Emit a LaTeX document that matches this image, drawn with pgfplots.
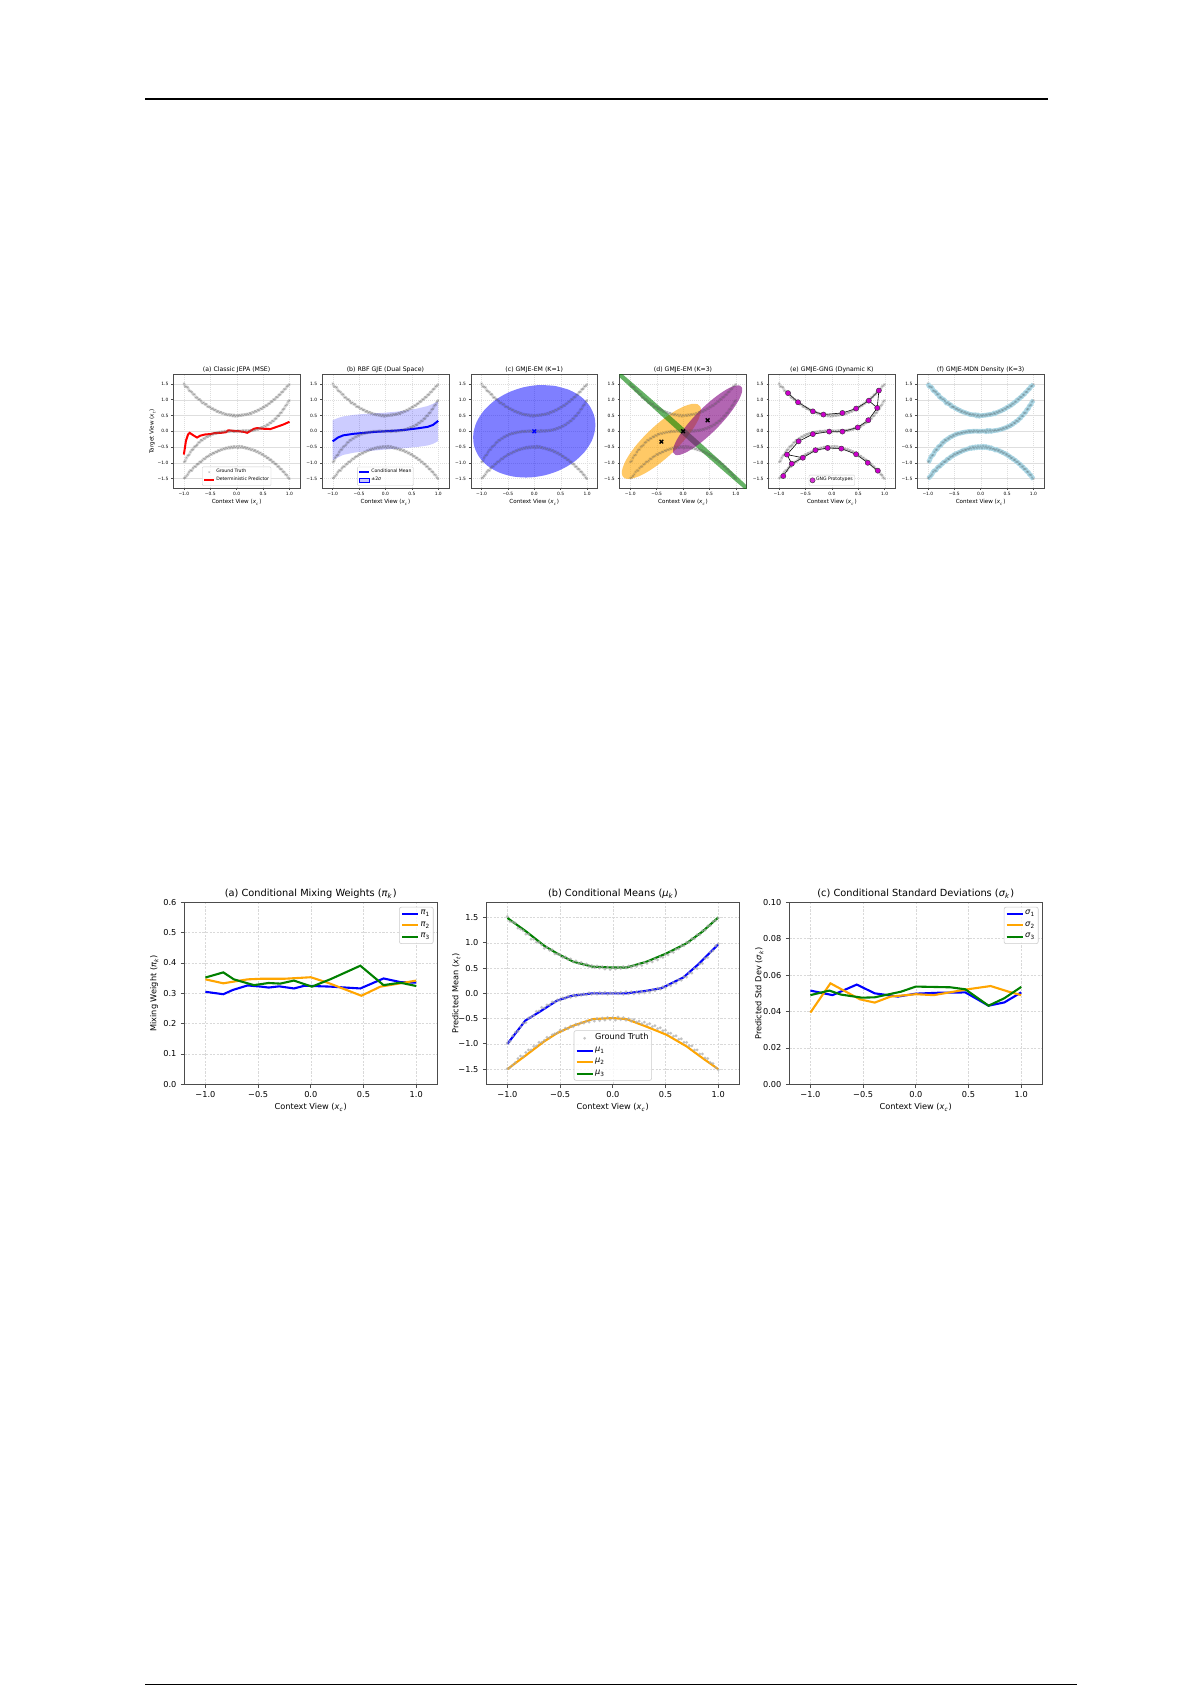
\documentclass[border=0pt]{standalone}
\usepackage{fontspec}
\setmainfont{DejaVu Sans}
\usepackage{pgfplots}
\usepackage{pgfplotstable}
\pgfplotsset{compat=1.18}

\definecolor{mblue}{RGB}{0,0,255}
\definecolor{morange}{RGB}{255,165,0}
\definecolor{mgreen}{RGB}{0,128,0}
\definecolor{mred}{RGB}{255,0,0}
\definecolor{mpurple}{RGB}{128,0,128}
\definecolor{mmagenta}{RGB}{204,0,204}
\definecolor{lblue}{RGB}{173,216,230}

% font sizes (1 px of the page = 0.5pt)
\newcommand\topT{\fontsize{3.1pt}{3.7pt}\selectfont}
\newcommand\topK{\fontsize{2.2pt}{2.6pt}\selectfont}
\newcommand\topX{\fontsize{2.8pt}{3.3pt}\selectfont}
\newcommand\topL{\fontsize{2.3pt}{2.7pt}\selectfont}
\newcommand\botT{\fontsize{4.9pt}{5.9pt}\selectfont}
\newcommand\botK{\fontsize{4.1pt}{4.9pt}\selectfont}
\newcommand\botL{\fontsize{4.1pt}{4.9pt}\selectfont}

\newcommand\xc{(\textit{x}\textsubscript{\textit{c}})}

% ground truth samples: u = upper, m = middle, l = lower branch
\pgfplotstableread{
x u m l
-1.000 1.52 -0.98 -1.49
-0.975 1.42 -0.95 -1.47
-0.950 1.41 -0.84 -1.42
-0.925 1.39 -0.77 -1.37
-0.900 1.29 -0.75 -1.29
-0.875 1.27 -0.66 -1.24
-0.850 1.24 -0.59 -1.25
-0.825 1.17 -0.58 -1.17
-0.800 1.17 -0.49 -1.12
-0.775 1.07 -0.47 -1.12
-0.750 1.07 -0.44 -1.05
-0.725 1.01 -0.36 -1.04
-0.700 1.01 -0.35 -0.97
-0.675 0.96 -0.28 -0.97
-0.650 0.89 -0.29 -0.93
-0.625 0.91 -0.23 -0.87
-0.600 0.85 -0.23 -0.88
-0.575 0.86 -0.17 -0.82
-0.550 0.78 -0.18 -0.80
-0.525 0.78 -0.13 -0.78
-0.500 0.76 -0.14 -0.73
-0.475 0.71 -0.09 -0.74
-0.450 0.72 -0.10 -0.69
-0.425 0.67 -0.06 -0.70
-0.400 0.68 -0.08 -0.65
-0.375 0.62 -0.04 -0.66
-0.350 0.64 -0.06 -0.61
-0.325 0.59 -0.02 -0.62
-0.300 0.61 -0.04 -0.58
-0.275 0.56 -0.01 -0.59
-0.250 0.58 -0.03 -0.55
-0.225 0.53 0.01 -0.57
-0.200 0.55 -0.02 -0.52
-0.175 0.51 0.01 -0.55
-0.150 0.54 -0.02 -0.50
-0.125 0.50 0.02 -0.54
-0.100 0.53 -0.01 -0.49
-0.075 0.48 0.02 -0.53
-0.050 0.52 -0.02 -0.48
-0.025 0.47 0.01 -0.52
0.000 0.51 -0.01 -0.48
0.025 0.48 0.02 -0.53
0.050 0.52 -0.01 -0.47
0.075 0.49 0.02 -0.52
0.100 0.53 -0.02 -0.48
0.125 0.50 0.03 -0.53
0.150 0.54 -0.01 -0.50
0.175 0.52 0.03 -0.55
0.200 0.55 -0.01 -0.52
0.225 0.53 0.03 -0.57
0.250 0.58 0.00 -0.55
0.275 0.55 0.04 -0.60
0.300 0.61 0.01 -0.57
0.325 0.59 0.05 -0.62
0.350 0.64 0.03 -0.60
0.375 0.62 0.07 -0.66
0.400 0.68 0.05 -0.64
0.425 0.66 0.10 -0.70
0.450 0.72 0.08 -0.68
0.475 0.71 0.13 -0.74
0.500 0.77 0.11 -0.73
0.525 0.76 0.17 -0.79
0.550 0.82 0.15 -0.79
0.575 0.81 0.21 -0.85
0.600 0.87 0.20 -0.84
0.625 0.88 0.27 -0.91
0.650 0.94 0.26 -0.90
0.675 0.94 0.33 -0.97
0.700 1.01 0.32 -0.97
0.725 1.01 0.40 -1.04
0.750 1.08 0.40 -1.04
0.775 1.08 0.49 -1.12
0.800 1.16 0.49 -1.12
0.825 1.16 0.58 -1.20
0.850 1.24 0.59 -1.20
0.875 1.25 0.69 -1.28
0.900 1.33 0.71 -1.29
0.925 1.34 0.81 -1.37
0.950 1.42 0.84 -1.39
0.975 1.44 0.94 -1.47
1.000 1.49 0.98 -1.51
}\gt

\pgfplotsset{
  common/.style={
    scale only axis,
    xmin=-1.2, xmax=1.2,
    xtick={-1,-0.5,0,0.5,1},
    xticklabels={−1.0,−0.5,0.0,0.5,1.0},
    tick align=outside, xtick pos=bottom, ytick pos=left,
    axis line style={black!70},
    tick style={black!70},
    grid=major,
    legend cell align=left,
    xticklabel style={inner sep=0pt},
    yticklabel style={inner sep=0pt},
  },
  topax/.style={common,
    width=63.35pt, height=56.75pt,
    ymin=-1.8, ymax=1.8,
    ytick={-1.5,-1,-0.5,0,0.5,1,1.5},
    yticklabels={−1.5,−1.0,−0.5,0.0,0.5,1.0,1.5},
    anchor=north west,
    axis line style={line width=0.3pt},
    tick style={line width=0.25pt},
    major tick length=1pt,
    grid style={dash pattern=on 0.6pt off 0.4pt, black!13, line width=0.15pt},
    tick label style={font=\topK},
    xticklabel shift=1.1pt, yticklabel shift=1.3pt,
    every axis title/.style={at={(0.5,1)}, anchor=south, inner sep=0pt, yshift=0.8pt, font=\topT},
    every axis x label/.style={at={(axis description cs:0.5,-0.13)}, anchor=center, font=\topX},
    every axis y label/.style={at={(axis description cs:-0.165,0.5)}, rotate=90, anchor=center, font=\topX},
    xlabel={Context View \xc},
    legend style={font=\topL, draw=black!20, line width=0.2pt, rounded corners=0.5pt,
      fill=white, fill opacity=0.8, text opacity=1, at={(0.5,0.02)}, anchor=south,
      inner sep=0.5pt, row sep=-0.2pt, nodes={inner sep=0.5pt}},
    legend image code/.code={\draw[sharp corners, mark repeat=2,mark phase=2,##1] plot coordinates {(0pt,0pt) (2.5pt,0pt) (5pt,0pt)};},
  },
  botax/.style={common,
    width=126.5pt, height=91pt,
    anchor=north west,
    axis line style={line width=0.45pt},
    tick style={line width=0.4pt},
    major tick length=1.75pt,
    grid style={dash pattern=on 1.1pt off 0.7pt, black!15, line width=0.25pt},
    tick label style={font=\botK},
    xticklabel shift=1.6pt, yticklabel shift=2pt,
    every axis title/.style={at={(0.5,1)}, anchor=south, inner sep=0pt, yshift=1.5pt, font=\botT},
    every axis x label/.style={at={(axis description cs:0.5,-0.127)}, anchor=center, font=\botK},
    every axis y label/.style={at={(axis description cs:-0.119,0.5)}, rotate=90, anchor=center, font=\botK},
    xlabel={Context View \xc},
    legend style={font=\botL, draw=black!20, line width=0.3pt, rounded corners=1pt,
      fill=white, fill opacity=0.8, text opacity=1,
      inner sep=0.8pt, row sep=0.6pt, nodes={inner sep=0.7pt}},
    legend image code/.code={\draw[sharp corners, mark repeat=2,mark phase=2,##1] plot coordinates {(0pt,0pt) (4pt,0pt) (8pt,0pt)};},
  },
  gtband/.style={forget plot, no marks, draw=gray, draw opacity=0.28, line width=1.4pt, line join=round},
  gtmark/.style={forget plot, only marks, mark=x, mark size=0.6pt,
    mark options={draw=black!60, draw opacity=0.5, line width=0.15pt}},
  gtdot/.style={only marks, mark=*, mark size=0.55pt, color=gray!65, opacity=0.55,
    mark options={draw=none}},
  topline/.style={line width=1pt},
  botline/.style={no marks, line width=1.05pt},
}

\newcommand\truth{%
  \addplot[gtband] table[x=x,y=u]{\gt};
  \addplot[gtband] table[x=x,y=m]{\gt};
  \addplot[gtband] table[x=x,y=l]{\gt};
  \addplot[gtmark] table[x=x,y=u]{\gt};
  \addplot[gtmark] table[x=x,y=m]{\gt};
  \addplot[gtmark] table[x=x,y=l]{\gt};
}

\begin{document}
\begin{tikzpicture}
\useasboundingbox (0,0) rectangle (596pt,-842.5pt);
\fill[white] (0,0) rectangle (596pt,-842.5pt);
\draw[line width=0.6pt] (72.5pt,-49.5pt) -- (524pt,-49.5pt);
\fill[black] (72.5pt,-841.9pt) rectangle (538.5pt,-842.5pt);

% ---------------- top row ----------------
\begin{axis}[topax, at={(86.65pt,-187.25pt)},
  title={(a) Classic JEPA (MSE)},
  ylabel={Target View (\textit{x}\textsubscript{\textit{t}})}]
\truth
\addlegendimage{only marks, mark=x, mark size=0.55pt, black!30}
\addplot[mred, topline] coordinates {(-1.0,-0.74) (-0.96,-0.30) (-0.92,-0.10) (-0.89,-0.05)
  (-0.82,-0.13) (-0.75,-0.20) (-0.69,-0.14) (-0.59,-0.10) (-0.50,-0.09) (-0.42,-0.06)
  (-0.30,-0.05) (-0.20,-0.03) (-0.16,0.03) (-0.05,0.01) (0.05,0.00) (0.14,-0.02)
  (0.20,-0.05) (0.27,0.02) (0.33,0.08) (0.39,0.10) (0.50,0.08) (0.64,0.07)
  (0.76,0.14) (0.88,0.21) (1.0,0.30)};
\legend{Ground Truth, Deterministic Predictor}
\end{axis}

\begin{axis}[topax, at={(161.05pt,-187.25pt)},
  title={(b) RBF GJE (Dual Space)}]
\truth
\addplot[forget plot, fill=mblue, fill opacity=0.2, draw=none] coordinates {
  (-1.0,0.35) (-0.9,0.42) (-0.8,0.47) (-0.6,0.52) (-0.4,0.55) (-0.2,0.57) (0.0,0.59)
  (0.2,0.62) (0.4,0.66) (0.6,0.72) (0.8,0.80) (0.9,0.87) (1.0,0.95)
  (1.0,-0.31) (0.9,-0.40) (0.8,-0.45) (0.6,-0.50) (0.4,-0.53) (0.2,-0.56) (0.0,-0.58)
  (-0.2,-0.61) (-0.4,-0.64) (-0.6,-0.68) (-0.8,-0.75) (-0.9,-0.83) (-1.0,-0.92)};
\addplot[mblue, topline] coordinates {(-1.0,-0.32) (-0.9,-0.20) (-0.8,-0.13) (-0.6,-0.08)
  (-0.4,-0.05) (-0.2,-0.02) (0.0,0.0) (0.2,0.02) (0.4,0.05) (0.6,0.09) (0.8,0.14)
  (0.9,0.20) (1.0,0.33)};
\addlegendimage{legend image code/.code={\fill[sharp corners, mblue, fill opacity=0.22] (0pt,-0.9pt) rectangle (5pt,0.9pt);}}
\legend{Conditional Mean, ±2\textit{σ}}
\end{axis}

\begin{axis}[topax, at={(235.45pt,-187.25pt)},
  title={(c) GMJE-EM (K=1)}]
\truth
\addplot[fill=mblue, fill opacity=0.5, draw=none, smooth] coordinates {
  (0.391,1.438) (0.095,1.466) (-0.207,1.393) (-0.495,1.226) (-0.749,0.976) (-0.952,0.658)
  (-1.091,0.296) (-1.154,-0.086) (-1.140,-0.462) (-1.047,-0.807) (-0.884,-1.097) (-0.660,-1.312)
  (-0.391,-1.438) (-0.095,-1.466) (0.207,-1.393) (0.495,-1.226) (0.749,-0.976) (0.952,-0.658)
  (1.091,-0.296) (1.154,0.086) (1.140,0.462) (1.047,0.807) (0.884,1.097) (0.660,1.312)
  (0.391,1.438)};
\addplot[only marks, mark=x, mark size=1.3pt, mark options={draw=mblue, line width=0.7pt}] coordinates {(0,0)};
\end{axis}

\begin{axis}[topax, at={(309.85pt,-187.25pt)},
  title={(d) GMJE-EM (K=3)}]
\truth
\addplot[fill=morange, fill opacity=0.6, draw=none, smooth] coordinates {
  (0.271,0.860) (0.166,0.867) (0.022,0.793) (-0.151,0.643) (-0.342,0.428) (-0.538,0.161)
  (-0.725,-0.138) (-0.891,-0.450) (-1.023,-0.752) (-1.114,-1.026) (-1.157,-1.251) (-1.149,-1.413)
  (-1.091,-1.500) (-0.986,-1.507) (-0.842,-1.433) (-0.669,-1.283) (-0.478,-1.068) (-0.282,-0.801)
  (-0.095,-0.502) (0.070,-0.190) (0.203,0.112) (0.294,0.386) (0.337,0.611) (0.329,0.773)
  (0.271,0.860)};
\addplot[fill=mgreen, fill opacity=0.6, draw=none, smooth] coordinates {
  (1.664,-2.496) (1.622,-2.401) (1.470,-2.142) (1.218,-1.737) (0.882,-1.214) (0.487,-0.609)
  (0.058,0.039) (-0.375,0.684) (-0.782,1.282) (-1.136,1.792) (-1.412,2.181) (-1.592,2.421)
  (-1.664,2.496) (-1.622,2.401) (-1.470,2.142) (-1.218,1.737) (-0.882,1.214) (-0.487,0.609)
  (-0.058,-0.039) (0.375,-0.684) (0.782,-1.282) (1.136,-1.792) (1.412,-2.181) (1.592,-2.421)
  (1.664,-2.496)};
\addplot[fill=mpurple, fill opacity=0.6, draw=none, smooth] coordinates {
  (1.075,1.450) (0.991,1.447) (0.872,1.370) (0.725,1.223) (0.560,1.017) (0.388,0.765)
  (0.222,0.485) (0.072,0.196) (-0.050,-0.083) (-0.138,-0.332) (-0.185,-0.535) (-0.187,-0.678)
  (-0.145,-0.750) (-0.061,-0.747) (0.058,-0.670) (0.205,-0.523) (0.370,-0.317) (0.542,-0.065)
  (0.708,0.215) (0.858,0.504) (0.980,0.783) (1.068,1.032) (1.115,1.235) (1.117,1.378)
  (1.075,1.450)};
\addplot[only marks, mark=x, mark size=1.3pt, mark options={draw=black, line width=0.7pt}] coordinates {
  (-0.41,-0.33) (0.465,0.35) (0.0,0.0)};
\end{axis}

\begin{axis}[topax, at={(384.25pt,-187.25pt)},
  title={(e) GMJE-GNG (Dynamic K)}]
\truth
\addplot[forget plot, black, line width=0.3pt] coordinates {(-0.83,1.21) (-0.64,0.92) (-0.36,0.63)
  (-0.16,0.53) (0.20,0.58) (0.46,0.72) (0.70,0.97) (0.89,1.29) (0.86,0.74) (0.70,0.97)};
\addplot[forget plot, black, line width=0.3pt] coordinates {(0.86,0.74) (0.69,0.35) (0.49,0.12)
  (0.20,-0.01) (-0.05,-0.01) (-0.36,-0.09) (-0.63,-0.32) (-0.85,-0.74) (-0.76,-1.03) (-0.92,-1.42)};
\addplot[forget plot, black, line width=0.3pt] coordinates {(-0.85,-0.74) (-0.55,-0.84) (-0.31,-0.60)
  (-0.08,-0.53) (0.18,-0.55) (0.46,-0.73) (0.68,-1.00) (0.87,-1.25)};
\addplot[forget plot, black, line width=0.3pt] coordinates {(-0.76,-1.03) (-0.55,-0.84)};
\addplot[only marks, mark=*, mark size=1.3pt, mark options={fill=mmagenta, draw=black!80, line width=0.2pt}] coordinates {
  (-0.83,1.21) (-0.64,0.92) (-0.36,0.63) (-0.16,0.53) (0.20,0.58) (0.46,0.72) (0.70,0.97)
  (0.89,1.29) (0.86,0.74) (0.69,0.35) (0.49,0.12) (0.20,-0.01) (-0.05,-0.01) (-0.36,-0.09)
  (-0.63,-0.32) (-0.85,-0.74) (-0.76,-1.03) (-0.92,-1.42) (-0.55,-0.84) (-0.31,-0.60)
  (-0.08,-0.53) (0.18,-0.55) (0.46,-0.73) (0.68,-1.00) (0.87,-1.25)};
\legend{GNG Prototypes}
\end{axis}

\begin{axis}[topax, at={(458.65pt,-187.25pt)},
  title={(f) GMJE-MDN Density (K=3)}]
\addplot[forget plot, lblue, line width=2.3pt, line join=round] table[x=x,y=u]{\gt};
\addplot[forget plot, lblue, line width=2.3pt, line join=round] table[x=x,y=m]{\gt};
\addplot[forget plot, lblue, line width=2.3pt, line join=round] table[x=x,y=l]{\gt};
\addplot[gtmark, mark options={draw opacity=0.18}] table[x=x,y=u]{\gt};
\addplot[gtmark, mark options={draw opacity=0.18}] table[x=x,y=m]{\gt};
\addplot[gtmark, mark options={draw opacity=0.18}] table[x=x,y=l]{\gt};
\end{axis}

% ---------------- bottom row ----------------
\begin{axis}[botax, at={(92.15pt,-451.15pt)},
  ymin=0, ymax=0.6, ytick={0,0.1,...,0.6},
  yticklabels={0.0,0.1,0.2,0.3,0.4,0.5,0.6},
  title={(a) Conditional Mixing Weights (\textit{π}\textsubscript{\textit{k}})},
  ylabel={Mixing Weight (\textit{π}\textsubscript{\textit{k}})},
  legend style={at={(0.985,0.975)}, anchor=north east}]
\addplot[mblue, botline] coordinates {(-1.0,0.305) (-0.83,0.297) (-0.74,0.311) (-0.6,0.326)
  (-0.47,0.322) (-0.40,0.319) (-0.30,0.323) (-0.16,0.316) (-0.06,0.325) (0.19,0.322)
  (0.47,0.316) (0.69,0.349) (0.85,0.337) (1.0,0.335)};
\addplot[morange, botline] coordinates {(-1.0,0.346) (-0.83,0.333) (-0.6,0.346) (-0.47,0.348)
  (-0.25,0.348) (0.0,0.353) (0.16,0.335) (0.48,0.292) (0.66,0.322) (0.85,0.333) (1.0,0.342)};
\addplot[mgreen, botline] coordinates {(-1.0,0.352) (-0.83,0.369) (-0.73,0.346) (-0.54,0.327)
  (-0.40,0.334) (-0.29,0.332) (-0.16,0.342) (0.01,0.322) (0.19,0.347) (0.47,0.391)
  (0.69,0.327) (0.85,0.335) (1.0,0.324)};
\legend{\textit{π}\textsubscript{1}, \textit{π}\textsubscript{2}, \textit{π}\textsubscript{3}}
\end{axis}

\begin{axis}[botax, at={(243.15pt,-451.15pt)},
  ymin=-1.8, ymax=1.8,
  ytick={-1.5,-1,-0.5,0,0.5,1,1.5},
  yticklabels={−1.5,−1.0,−0.5,0.0,0.5,1.0,1.5},
  title={(b) Conditional Means (\textit{μ}\textsubscript{\textit{k}})},
  ylabel={Predicted Mean (\textit{x}\textsubscript{\textit{t}})},
  legend style={at={(0.5,0.02)}, anchor=south}]
\addplot[gtdot] table[x=x,y=u]{\gt};
\addplot[gtdot, forget plot] table[x=x,y=m]{\gt};
\addplot[gtdot, forget plot] table[x=x,y=l]{\gt};
\addplot[mblue, botline] coordinates {(-1.0,-1.0) (-0.83,-0.54) (-0.69,-0.36) (-0.53,-0.145)
  (-0.39,-0.05) (-0.19,0.0) (0.13,0.0) (0.32,0.05) (0.46,0.10) (0.67,0.315) (0.82,0.59) (1.0,0.97)};
\addplot[morange, botline] coordinates {(-1.0,-1.5) (-0.82,-1.22) (-0.65,-0.95) (-0.53,-0.79)
  (-0.375,-0.64) (-0.19,-0.51) (0.0,-0.49) (0.13,-0.51) (0.32,-0.66) (0.51,-0.82) (0.70,-1.05)
  (0.85,-1.28) (1.0,-1.5)};
\addplot[mgreen, botline] coordinates {(-1.0,1.49) (-0.82,1.22) (-0.65,0.94) (-0.53,0.79)
  (-0.375,0.625) (-0.19,0.526) (0.0,0.51) (0.13,0.51) (0.32,0.625) (0.51,0.79) (0.70,0.99)
  (0.85,1.22) (1.0,1.5)};
\legend{Ground Truth, \textit{μ}\textsubscript{1}, \textit{μ}\textsubscript{2}, \textit{μ}\textsubscript{3}}
\end{axis}

\begin{axis}[botax, at={(394.65pt,-451.15pt)},
  ymin=0, ymax=0.1, ytick={0,0.02,0.04,0.06,0.08,0.1},
  yticklabels={0.00,0.02,0.04,0.06,0.08,0.10},
  title={(c) Conditional Standard Deviations (\textit{σ}\textsubscript{\textit{k}})},
  ylabel={Predicted Std Dev (\textit{σ}\textsubscript{\textit{k}})},
  legend style={at={(0.985,0.975)}, anchor=north east}]
\addplot[mblue, botline] coordinates {(-1.0,0.0515) (-0.79,0.049) (-0.56,0.0548) (-0.39,0.050)
  (-0.17,0.0482) (0.0,0.0498) (0.21,0.0503) (0.47,0.0505) (0.69,0.0432) (0.84,0.045) (1.0,0.0505)};
\addplot[morange, botline] coordinates {(-1.0,0.0394) (-0.81,0.0555) (-0.53,0.0467) (-0.39,0.0449)
  (-0.24,0.0482) (0.0,0.0495) (0.17,0.049) (0.49,0.0522) (0.71,0.054) (0.88,0.0509) (1.0,0.049)};
\addplot[mgreen, botline] coordinates {(-1.0,0.049) (-0.82,0.0515) (-0.71,0.0493) (-0.51,0.0476)
  (-0.39,0.0478) (-0.14,0.0509) (0.0,0.0537) (0.33,0.0533) (0.47,0.0522) (0.69,0.0432)
  (0.84,0.0473) (1.0,0.0535)};
\legend{\textit{σ}\textsubscript{1}, \textit{σ}\textsubscript{2}, \textit{σ}\textsubscript{3}}
\end{axis}
\end{tikzpicture}
\end{document}
